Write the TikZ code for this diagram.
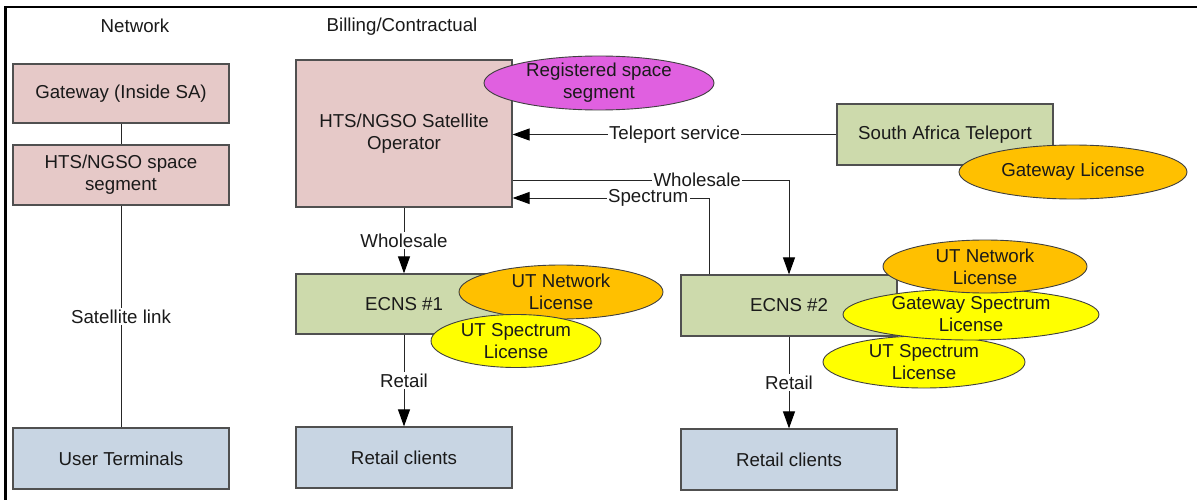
\documentclass[tikz,border=0pt]{standalone}
\usepackage{fontspec}
\setmainfont{Liberation Sans}
\usetikzlibrary{shapes.geometric,arrows.meta,calc}
\definecolor{pinkf}{HTML}{E6C9C8}
\definecolor{greenf}{HTML}{CDDAAC}
\definecolor{bluef}{HTML}{C8D5E3}
\definecolor{magf}{HTML}{E060E0}
\definecolor{orgf}{HTML}{FFC000}
\definecolor{yelf}{HTML}{FFFF00}
\definecolor{edgec}{HTML}{505050}
\definecolor{txtc}{HTML}{1A1A1A}
\begin{document}
\begin{tikzpicture}[x=1pt,y=-1pt,
  font=\fontsize{18.7}{22}\selectfont, text=txtc,
  box/.style={draw=edgec, line width=1.2pt, minimum width=216pt, inner sep=0pt, align=center},
  lic/.style={ellipse, draw=black!75, line width=0.9pt, inner sep=0pt},
  ltxt/.style={align=center, inner sep=0pt},
  lbl/.style={fill=white, inner sep=1.5pt},
  conn/.style={draw=black!85, line width=1pt},
  arr/.style={conn, -{Triangle[length=17pt,width=12pt,fill=black,color=black]}},
]
\useasboundingbox (0,0) rectangle (1197,500);
\fill[white] (0,0) rectangle (1197,500);
\draw[line width=2.5pt] (5.5,500) -- (5.5,7) -- (1197,7);

% headers
\node (hnet) at (135,26) {Network};
\node (hbill) at (402,27) {Billing/Contractual};

% boxes
\node[box, fill=pinkf, minimum height=59pt] (gw) at (121,93.5) {Gateway (Inside SA)};
\node[box, fill=pinkf, minimum height=60pt] (seg) at (121,175) {HTS/NGSO space\\segment};
\node[box, fill=bluef, minimum height=61pt] (ut) at (121,458.5) {User Terminals};
\node[box, fill=pinkf, minimum height=147pt] (op) at (404,133.5) {HTS/NGSO Satellite\\Operator};
\node[box, fill=greenf, minimum height=60pt] (e1) at (404,304) {ECNS \#1};
\node[box, fill=bluef, minimum height=61pt] (rc1) at (404,457.5) {Retail clients};
\node[box, fill=greenf, minimum height=61pt] (e2) at (789,305.5) {ECNS \#2};
\node[box, fill=bluef, minimum height=61pt] (rc2) at (789,459.5) {Retail clients};
\node[box, fill=greenf, minimum height=61pt] (sat) at (945,134.5) {South Africa Teleport};

% connectors
\draw[conn] (gw) -- (seg);
\draw[conn] (seg) -- node[lbl] {Satellite link} (ut);
\draw[arr] (op) -- node[lbl] {Wholesale} (e1);
\draw[arr] (e1) -- node[lbl] {Retail} (rc1);
\draw[arr] (e2) -- node[lbl] {Retail} (rc2);
\draw[arr] (sat.west) -- node[lbl] {Teleport service} (sat.west -| op.east);
\draw[arr] ([yshift=-46.5pt]op.east) -| node[lbl, pos=0.334] {Wholesale} (e2.north);
\draw[arr] ([xshift=-80pt]e2.north) |- node[lbl, pos=0.655] {Spectrum} ([yshift=-64.5pt]op.east);

% license ellipses
\node[lic, fill=magf, minimum width=230pt, minimum height=54pt] (reg) at (599,83) {};
\node[lic, fill=orgf, minimum width=228pt, minimum height=54pt] (gwl) at (1073,172) {};
\node[lic, fill=orgf, minimum width=204pt, minimum height=54pt] (utn1) at (561,292) {};
\node[lic, fill=yelf, minimum width=170pt, minimum height=53pt] (uts1) at (516,341) {};
\node[lic, fill=yelf, minimum width=202pt, minimum height=52pt] (uts2) at (924,362) {};
\node[lic, fill=yelf, minimum width=256pt, minimum height=51pt] (gws2) at (971,314.5) {};
\node[lic, fill=orgf, minimum width=204pt, minimum height=53pt] (utn2) at (985,266.5) {};

\node[ltxt] (regt) at (reg) {Registered space\\segment};
\node[ltxt] (gwlt) at (gwl) {Gateway License};
\node[ltxt] (utn1t) at (utn1) {UT Network\\License};
\node[ltxt] (uts1t) at (uts1) {UT Spectrum\\License};
\node[ltxt] (uts2t) at (uts2) {UT Spectrum\\License};
\node[ltxt] (gws2t) at (gws2) {Gateway Spectrum\\License};
\node[ltxt] (utn2t) at (utn2) {UT Network\\License};
\end{tikzpicture}
\end{document}
